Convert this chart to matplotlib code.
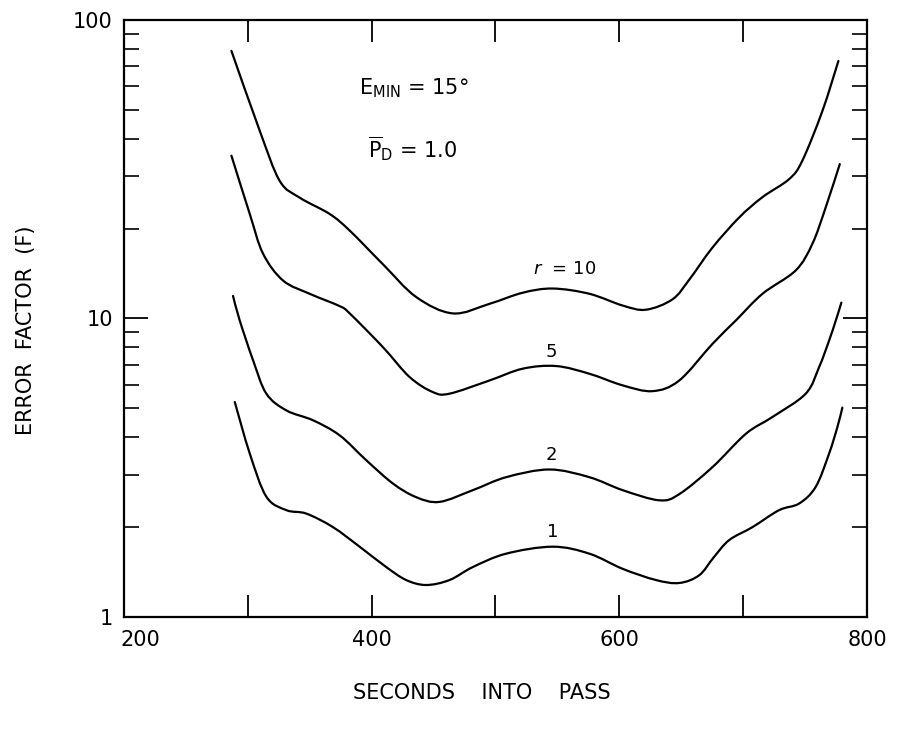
import matplotlib
matplotlib.use("Agg")
import numpy as np
import matplotlib.pyplot as plt
import matplotlib.transforms as mtransforms
from matplotlib.path import Path
from matplotlib.patches import PathPatch
from matplotlib.ticker import FixedLocator, LogLocator, NullFormatter, FixedFormatter

plt.rcParams['font.family'] = ['DejaVu Sans']
plt.rcParams['mathtext.fontset'] = 'dejavusans'

# ---- data ----
x_r10 = [286.8, 309.7, 325.8, 341.9, 366.1, 382.3, 409.1, 436.0, 465.6, 495.2, 522.0, 546.2,
         575.8, 602.7, 621.5, 643.0, 656.5, 675.3, 696.8, 715.6, 737.1, 747.8, 764.0, 776.9]
y_r10 = [78.8, 42.5, 28.9, 25.4, 22.4, 19.7, 15.2, 11.8, 10.4, 11.2, 12.2, 12.6,
         12.1, 11.05, 10.7, 11.6, 13.5, 17.3, 21.8, 25.5, 29.3, 33.8, 49.6, 72.9]

x_r5 = [286.8, 301.6, 312.3, 328.5, 350.0, 374.2, 382.3, 409.1, 430.6, 449.4, 462.9, 495.2,
        522.0, 548.9, 575.8, 602.7, 626.9, 648.4, 675.3, 694.1, 715.6, 742.5, 755.9, 766.7, 778.0]
y_r5 = [35.1, 22.4, 16.5, 13.4, 12.1, 11.0, 10.4, 8.02, 6.37, 5.67, 5.6, 6.2,
        6.79, 6.93, 6.53, 5.97, 5.71, 6.2, 8.23, 9.85, 12.1, 14.5, 17.8, 23.6, 32.9]

x_r2 = [288.1, 293.5, 304.3, 315.0, 331.2, 352.7, 374.2, 395.7, 417.2, 436.0, 454.8, 481.7,
        508.6, 543.5, 575.8, 602.7, 632.3, 648.4, 675.3, 702.2, 723.7, 750.5, 761.3, 769.4,
        774.8, 779.3]
y_r2 = [11.9, 9.85, 7.24, 5.6, 4.92, 4.56, 4.06, 3.35, 2.80, 2.52, 2.43, 2.66,
        2.94, 3.12, 2.94, 2.66, 2.46, 2.58, 3.18, 4.11, 4.68, 5.6, 6.87, 8.44,
        9.85, 11.3]

x_r1 = [289.5, 301.6, 315.0, 331.2, 347.3, 368.8, 390.3, 411.8, 427.9, 444.0, 462.9, 481.7,
        508.6, 546.2, 575.8, 602.7, 629.6, 648.4, 664.5, 676.0, 688.7, 707.5, 729.0, 745.2,
        758.6, 769.4, 776.1, 780.1]
y_r1 = [5.25, 3.53, 2.53, 2.28, 2.22, 2.00, 1.72, 1.47, 1.33, 1.28, 1.33, 1.47,
        1.63, 1.72, 1.63, 1.45, 1.33, 1.30, 1.38, 1.58, 1.81, 2.00, 2.28, 2.40,
        2.73, 3.53, 4.33, 5.03]

curve_labels = [r'$r$  = 10', '5', '2', '1']
label_x = [556, 545, 545, 546]
label_y = [14.7, 7.71, 3.48, 1.93]

x_ticks = [200, 300, 400, 500, 600, 700, 800]
x_ticklabels = ['200', '', '400', '', '600', '', '800']
y_ticks = [1, 10, 100]
y_ticklabels = ['1', '10', '100']


def smooth_path(xs, ys):
    """Catmull-Rom curve through the points, drawn as cubic Bezier segments
    in (x, log10 y) space so it follows the log axis."""
    px = np.asarray(xs, float)
    py = np.log10(np.asarray(ys, float))
    n = len(px)
    verts = [(px[0], 10 ** py[0])]
    codes = [Path.MOVETO]
    for i in range(n - 1):
        i0 = max(i - 1, 0)
        i3 = min(i + 2, n - 1)
        c1x = px[i] + (px[i + 1] - px[i0]) / 6.0
        c1y = py[i] + (py[i + 1] - py[i0]) / 6.0
        c2x = px[i + 1] - (px[i3] - px[i]) / 6.0
        c2y = py[i + 1] - (py[i3] - py[i]) / 6.0
        verts += [(c1x, 10 ** c1y), (c2x, 10 ** c2y), (px[i + 1], 10 ** py[i + 1])]
        codes += [Path.CURVE4] * 3
    return Path(verts, codes)


# ---- figure ----
fig = plt.figure(figsize=(8.98, 7.32), dpi=100)
ax = fig.add_axes([0.138, 0.1571, 0.8275, 0.8156])
ax.set_yscale('log')
ax.set_xlim(200, 800)
ax.set_ylim(1, 100)

for xs, ys in [(x_r10, y_r10), (x_r5, y_r5), (x_r2, y_r2), (x_r1, y_r1)]:
    patch = PathPatch(smooth_path(xs, ys), facecolor='none', edgecolor='black',
                      lw=1.6, capstyle='round', joinstyle='round', transform=ax.transData)
    ax.add_patch(patch)

for lab, lx, ly in zip(curve_labels, label_x, label_y):
    ax.text(lx, ly, lab, ha='center', va='center', fontsize=13, color='black')

ax.text(390, 59.3, r'E$_{\mathrm{MIN}}$ = 15°', ha='left', va='center', fontsize=15)
ax.text(397, 37.0, r'$\overline{\mathrm{P}}_{\mathrm{D}}$ = 1.0', ha='left', va='center', fontsize=15)

# axes styling
for sp in ax.spines.values():
    sp.set_linewidth(1.6)

ax.xaxis.set_major_locator(FixedLocator(x_ticks))
ax.xaxis.set_major_formatter(FixedFormatter(x_ticklabels))
ax.yaxis.set_major_locator(FixedLocator(y_ticks))
ax.yaxis.set_major_formatter(FixedFormatter(y_ticklabels))
ax.yaxis.set_minor_locator(LogLocator(base=10, subs=range(2, 10)))
ax.yaxis.set_minor_formatter(NullFormatter())

ax.tick_params(axis='x', which='major', direction='in', length=16, width=1.3,
               top=True, bottom=True, labelsize=15, pad=9)
ax.tick_params(axis='y', which='major', direction='in', length=17, width=1.3,
               left=True, right=True, labelsize=15, pad=8)
ax.tick_params(axis='y', which='minor', direction='in', length=11, width=1.2,
               left=True, right=True)

# shift the "200" label to the right as in the reference
offset = mtransforms.ScaledTranslation(16 / 100, 0, fig.dpi_scale_trans)
lbls = ax.get_xticklabels()
lbls[0].set_transform(lbls[0].get_transform() + offset)

fig.text(482 / 898, 1 - 693 / 732, 'SECONDS    INTO    PASS', ha='center', va='center', fontsize=15)
fig.text(26 / 898, 1 - 330 / 732, 'ERROR  FACTOR  (F)', ha='center', va='center',
         rotation=90, fontsize=15)

fig.savefig('out.png', dpi=100)
